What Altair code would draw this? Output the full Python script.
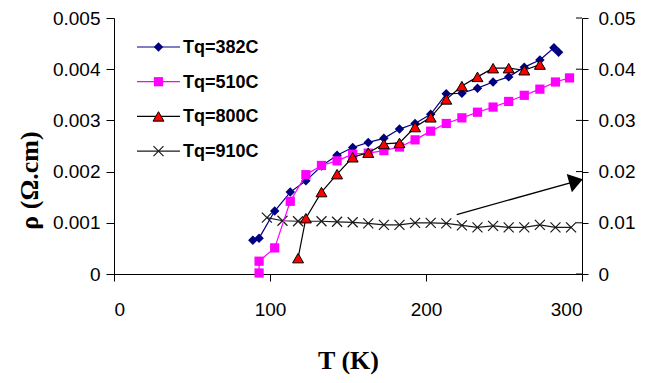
import math
import altair as alt
import pandas as pd

# Resistivity vs temperature for four quench temperatures
t382 = [89, 93, 103, 113, 123, 133, 143, 153, 163, 173, 183, 193, 203, 213, 223, 233, 243, 253, 263, 273, 282, 285]
rho382 = [0.00066, 0.00070, 0.00123, 0.00160, 0.00182, 0.00211, 0.00232, 0.00247, 0.00257, 0.00265, 0.00283,
          0.00294, 0.00312, 0.00352, 0.00353, 0.00363, 0.00375, 0.00385, 0.00404, 0.00418, 0.00442, 0.00433]

t510 = [93, 93, 103, 113, 123, 133, 143, 153, 163, 173, 183, 193, 203, 213, 223, 233, 243, 253, 263, 273, 283, 292]
rho510 = [0.00002, 0.00025, 0.00051, 0.00142, 0.00194, 0.00212, 0.00221, 0.00234, 0.00236, 0.00241, 0.00248,
          0.00262, 0.00279, 0.00294, 0.00305, 0.00316, 0.00326, 0.00337, 0.00349, 0.00361, 0.00375, 0.00383]

t800 = [118, 123, 133, 143, 153, 163, 173, 183, 193, 203, 213, 223, 233, 243, 253, 263, 273]
rho800 = [0.00031, 0.00109, 0.00160, 0.00195, 0.00228, 0.00237, 0.00254, 0.00256, 0.00287, 0.00306, 0.00341,
          0.00367, 0.00385, 0.00402, 0.00402, 0.00398, 0.00409]

# Tq=910C is plotted against the secondary (right) axis
t910 = [98, 108, 118, 133, 143, 153, 163, 173, 183, 193, 203, 213, 223, 233, 243, 253, 263, 273, 283, 293]
rho910 = [0.0110, 0.0104, 0.0103, 0.0103, 0.0102, 0.0101, 0.0099, 0.0096, 0.0096, 0.0100, 0.0100, 0.0099,
          0.0095, 0.0091, 0.0094, 0.0091, 0.0091, 0.0096, 0.0091, 0.0091]

# Arrow pointing the 910C curve to the right-hand axis (left-axis units)
arrow_T = [219.7, 300.5]
arrow_rho = [0.00116, 0.00185]

x_ticks = [0, 100, 200, 300]
left_ticks = [0, 0.001, 0.002, 0.003, 0.004, 0.005]
right_ticks = [0, 0.01, 0.02, 0.03, 0.04, 0.05]

series_names = ["Tq=382C", "Tq=510C", "Tq=800C", "Tq=910C"]

W, H = 468, 256
NAVY, MAGENTA, RED, DARK = "#000080", "#FF00FF", "#FF0000", "#1a1a1a"
X_SHAPE = "M-1,-1L1,1M-1,1L1,-1"
HEAD_SHAPE = "M0,0L-2,-1.35L-2,1.35Z"

x_scale = alt.Scale(domain=[0, 300], nice=False)
yl_scale = alt.Scale(domain=[0, 0.005], nice=False)
yr_scale = alt.Scale(domain=[0, 0.05], nice=False)

x_axis = alt.Axis(values=x_ticks, format="d", title="T (K)", tickSize=7, labelPadding=19,
                  titleY=86, titleBaseline="middle")
left_axis = alt.Axis(values=left_ticks, format=".3~f", title="ρ (Ω.cm)", tickSize=8, labelPadding=6,
                     titleAngle=270, titleX=-85, titleY=162, titleAlign="center", titleBaseline="middle")
right_axis = alt.Axis(values=right_ticks, format=".2~f", title="", orient="right", tickSize=6,
                      labelPadding=10)

X = alt.X("T:Q", scale=x_scale, axis=x_axis)
YL = alt.Y("rho:Q", scale=yl_scale, axis=left_axis)
YR = alt.Y("rho:Q", scale=yr_scale, axis=right_axis)


def frame(t, r):
    return pd.DataFrame({"T": t, "rho": r})


def series(t, r, y, line_color, point_kw):
    base = alt.Chart(frame(t, r))
    line = base.mark_line(color=line_color, strokeWidth=1.2).encode(x=X, y=y)
    pts = base.mark_point(opacity=1, **point_kw).encode(x=X, y=y)
    return [line, pts]


diamond_kw = dict(shape="diamond", filled=True, color=NAVY, size=90)
square_kw = dict(shape="square", filled=True, color=MAGENTA, size=85)
tri_kw = dict(shape="triangle-up", filled=True, color=RED, fill=RED, stroke="black", strokeWidth=1, size=120)
cross_kw = dict(shape=X_SHAPE, filled=False, color=DARK, strokeWidth=1.2, size=100)

left_layers = []
left_layers += series(t382, rho382, YL, NAVY, diamond_kw)
left_layers += series(t510, rho510, YL, MAGENTA, square_kw)
left_layers += series(t800, rho800, YL, "black", tri_kw)

# arrow annotation
arrow_df = frame(arrow_T, arrow_rho)
dx = (arrow_T[1] - arrow_T[0]) / 300 * W
dy = -(arrow_rho[1] - arrow_rho[0]) / 0.005 * H
head_angle = math.degrees(math.atan2(dy, dx)) % 360
left_layers.append(alt.Chart(arrow_df).mark_line(color="black", strokeWidth=1.3).encode(x=X, y=YL))
left_layers.append(
    alt.Chart(frame(arrow_T[1:], arrow_rho[1:]))
    .mark_point(shape=HEAD_SHAPE, filled=True, color="black", size=196, angle=head_angle, opacity=1)
    .encode(x=X, y=YL)
)

# legend drawn in the upper-left of the plot
legend_styles = [
    (NAVY, diamond_kw),
    (MAGENTA, square_kw),
    ("black", tri_kw),
    (DARK, cross_kw),
]
for i, (name, (lc, kw)) in enumerate(zip(series_names, legend_styles)):
    row_y = 29 + i * 34.7
    one = alt.Chart(pd.DataFrame({"label": [name]}))
    left_layers.append(one.mark_rule(color=lc, strokeWidth=1.2).encode(
        x=alt.value(23), x2=alt.value(66), y=alt.value(row_y)))
    left_layers.append(one.mark_point(opacity=1, **kw).encode(x=alt.value(44.5), y=alt.value(row_y)))
    left_layers.append(one.mark_text(align="left", baseline="middle", font="Liberation Sans",
                                     fontWeight="bold", fontSize=18, color="black").encode(
        x=alt.value(69), y=alt.value(row_y + 1), text="label:N"))

right_layers = series(t910, rho910, YR, DARK, cross_kw)
# inner half of the crossing tick marks on the right axis
right_layers.append(
    alt.Chart(pd.DataFrame({"rho": right_ticks})).mark_rule(color="black", strokeWidth=1).encode(
        x=alt.value(W - 6), x2=alt.value(W), y=YR)
)

chart = (
    alt.layer(alt.layer(*right_layers), alt.layer(*left_layers))
    .resolve_scale(y="independent")
    .properties(
        width=W,
        height=H,
        padding={"left": 114, "top": 18, "right": 72, "bottom": 109},
        autosize=alt.AutoSizeParams(type="none"),
        background="white",
    )
    .configure_view(strokeWidth=0)
    .configure_axis(
        grid=False,
        domainColor="black",
        domainWidth=1,
        tickColor="black",
        tickWidth=1,
        labelColor="black",
        labelFont="Liberation Sans",
        labelFontSize=19,
        titleColor="black",
        titleFont="Liberation Serif",
        titleFontWeight="bold",
        titleFontSize=26,
    )
)

chart.save("out.html", embed_options={"renderer": "svg", "actions": False})
